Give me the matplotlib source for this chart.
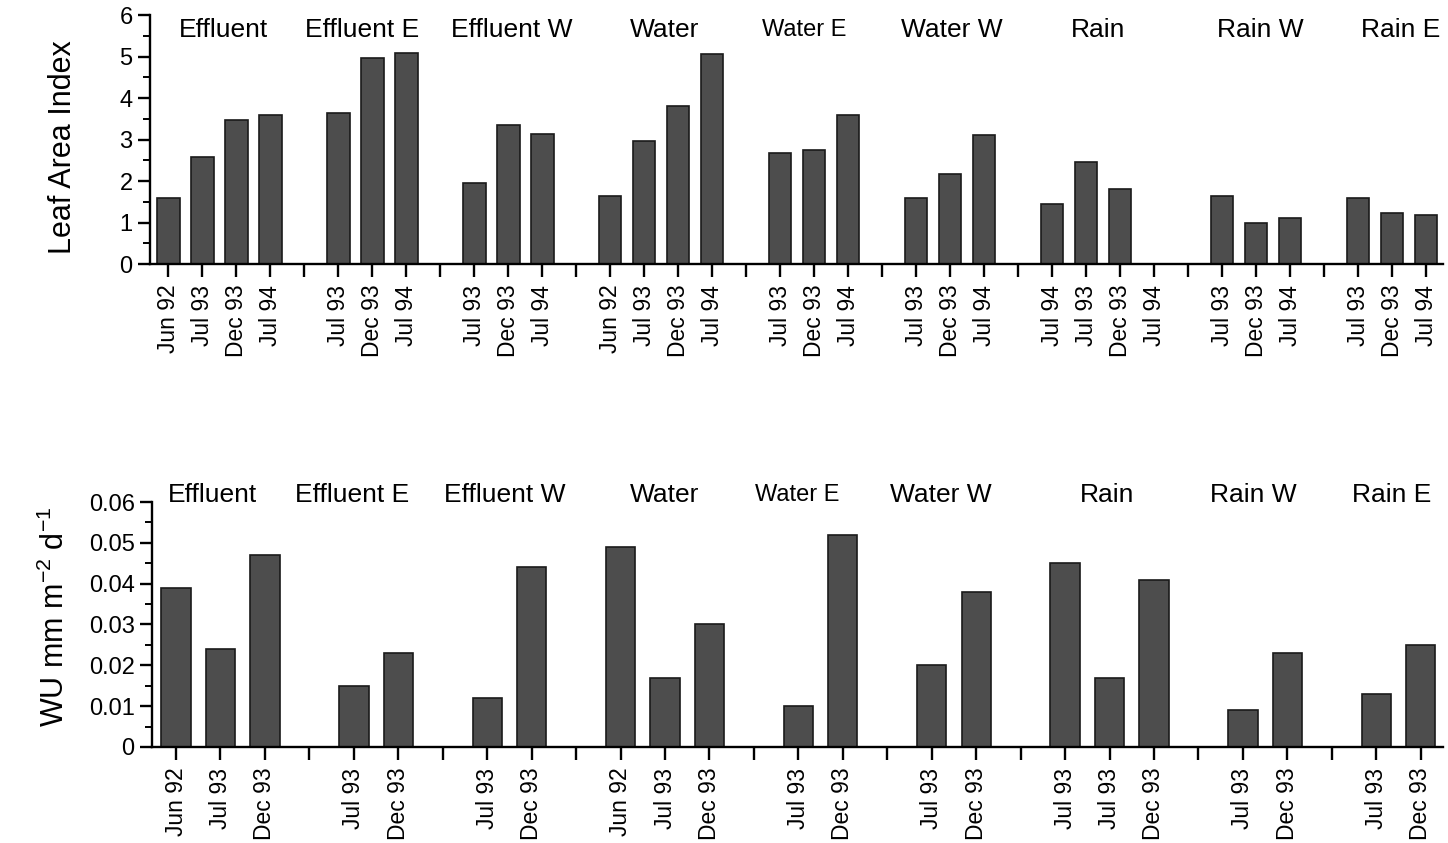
import numpy as np
import matplotlib
matplotlib.use("Agg")
import matplotlib.pyplot as plt
from matplotlib.ticker import MultipleLocator, FuncFormatter

plt.rcParams['font.family'] = ['Liberation Sans', 'DejaVu Sans']
plt.rcParams['mathtext.default'] = 'regular'

groups = ["Effluent", "Effluent E", "Effluent W", "Water", "Water E",
          "Water W", "Rain", "Rain W", "Rain E"]

# top panel: leaf area index
lai_dates = [
    ["Jun 92", "Jul 93", "Dec 93", "Jul 94"],
    ["Jul 93", "Dec 93", "Jul 94"],
    ["Jul 93", "Dec 93", "Jul 94"],
    ["Jun 92", "Jul 93", "Dec 93", "Jul 94"],
    ["Jul 93", "Dec 93", "Jul 94"],
    ["Jul 93", "Dec 93", "Jul 94"],
    ["Jul 94", "Jul 93", "Dec 93", "Jul 94"],
    ["Jul 93", "Dec 93", "Jul 94"],
    ["Jul 93", "Dec 93", "Jul 94"],
]
lai_values = [
    [1.60, 2.57, 3.46, 3.58],
    [3.63, 4.97, 5.09],
    [1.95, 3.34, 3.14],
    [1.65, 2.97, 3.80, 5.07],
    [2.68, 2.74, 3.60],
    [1.60, 2.17, 3.10],
    [1.44, 2.47, 1.81, None],
    [1.64, 0.99, 1.12],
    [1.60, 1.22, 1.19],
]

# bottom panel: water use
wu_dates = [
    ["Jun 92", "Jul 93", "Dec 93"],
    ["Jul 93", "Dec 93"],
    ["Jul 93", "Dec 93"],
    ["Jun 92", "Jul 93", "Dec 93"],
    ["Jul 93", "Dec 93"],
    ["Jul 93", "Dec 93"],
    ["Jul 93", "Jul 93", "Dec 93"],
    ["Jul 93", "Dec 93"],
    ["Jul 93", "Dec 93"],
]
wu_values = [
    [0.039, 0.024, 0.047],
    [0.015, 0.023],
    [0.012, 0.044],
    [0.049, 0.017, 0.030],
    [0.010, 0.052],
    [0.020, 0.038],
    [0.045, 0.017, 0.041],
    [0.009, 0.023],
    [0.013, 0.025],
]

# where the group names sit (axes fraction)
title_x_top = [0.057, 0.164, 0.280, 0.398, 0.506, 0.620, 0.733, 0.859, 0.967]
title_x_bot = [0.047, 0.155, 0.273, 0.397, 0.500, 0.611, 0.740, 0.853, 0.960]

BAR = '#4d4d4d'
EDGE = '#1a1a1a'


def layout(dates, values):
    # one slot per date, plus an empty slot between groups
    pos, labels, heights = [], [], []
    slot = 0
    for gi, (d, v) in enumerate(zip(dates, values)):
        for lab, val in zip(d, v):
            pos.append(slot)
            labels.append(lab)
            heights.append(val)
            slot += 1
        if gi < len(dates) - 1:
            pos.append(slot)
            labels.append("")
            heights.append(None)
            slot += 1
    return pos, labels, heights


def draw(ax, dates, values, ymax, major, minor, title_x, title_y, small):
    pos, labels, heights = layout(dates, values)
    bx = [p for p, h in zip(pos, heights) if h is not None]
    bh = [h for h in heights if h is not None]
    ax.bar(bx, bh, width=0.66, color=BAR, edgecolor=EDGE, linewidth=1.2)
    ax.set_xlim(pos[0] - 0.54, pos[-1] + 0.50)
    ax.set_ylim(0, ymax)
    ax.set_xticks(pos)
    ax.set_xticklabels(labels, rotation=90, fontsize=16.5)
    ax.yaxis.set_major_locator(MultipleLocator(major))
    ax.yaxis.set_minor_locator(MultipleLocator(minor))
    for s in ['top', 'right']:
        ax.spines[s].set_visible(False)
    for s in ['left', 'bottom']:
        ax.spines[s].set_linewidth(1.7)
    ax.tick_params(axis='both', which='major', direction='out', length=9,
                   width=1.7, labelsize=17)
    ax.tick_params(axis='x', labelsize=16.5, pad=6)
    ax.tick_params(axis='y', which='minor', direction='out', length=5, width=1.4)
    for name, tx in zip(groups, title_x):
        ax.text(tx, title_y, name, transform=ax.transAxes, ha='center',
                va='center', fontsize=17 if name == small else 19)


fig = plt.figure(figsize=(14.48, 8.43), dpi=100)
ax1 = fig.add_axes([0.1036, 0.6868, 0.893, 0.2954])
ax2 = fig.add_axes([0.1050, 0.1139, 0.8915, 0.2906])

draw(ax1, lai_dates, lai_values, 6, 1, 0.5, title_x_top, 0.94, "Water E")
ax1.yaxis.set_major_formatter(FuncFormatter(lambda v, p: '%d' % round(v)))
ax1.set_ylabel("Leaf Area Index", fontsize=22)
ax1.yaxis.set_label_coords(-0.056, 0.47)

draw(ax2, wu_dates, wu_values, 0.06, 0.01, 0.005, title_x_bot, 1.03, "Water E")
ax2.yaxis.set_major_formatter(
    FuncFormatter(lambda v, p: '0' if abs(v) < 1e-9 else '%.2f' % v))
ax2.set_ylabel("WU mm m$^{-2}$ d$^{-1}$", fontsize=22)
ax2.yaxis.set_label_coords(-0.063, 0.53)

fig.savefig("out.png", dpi=100)
